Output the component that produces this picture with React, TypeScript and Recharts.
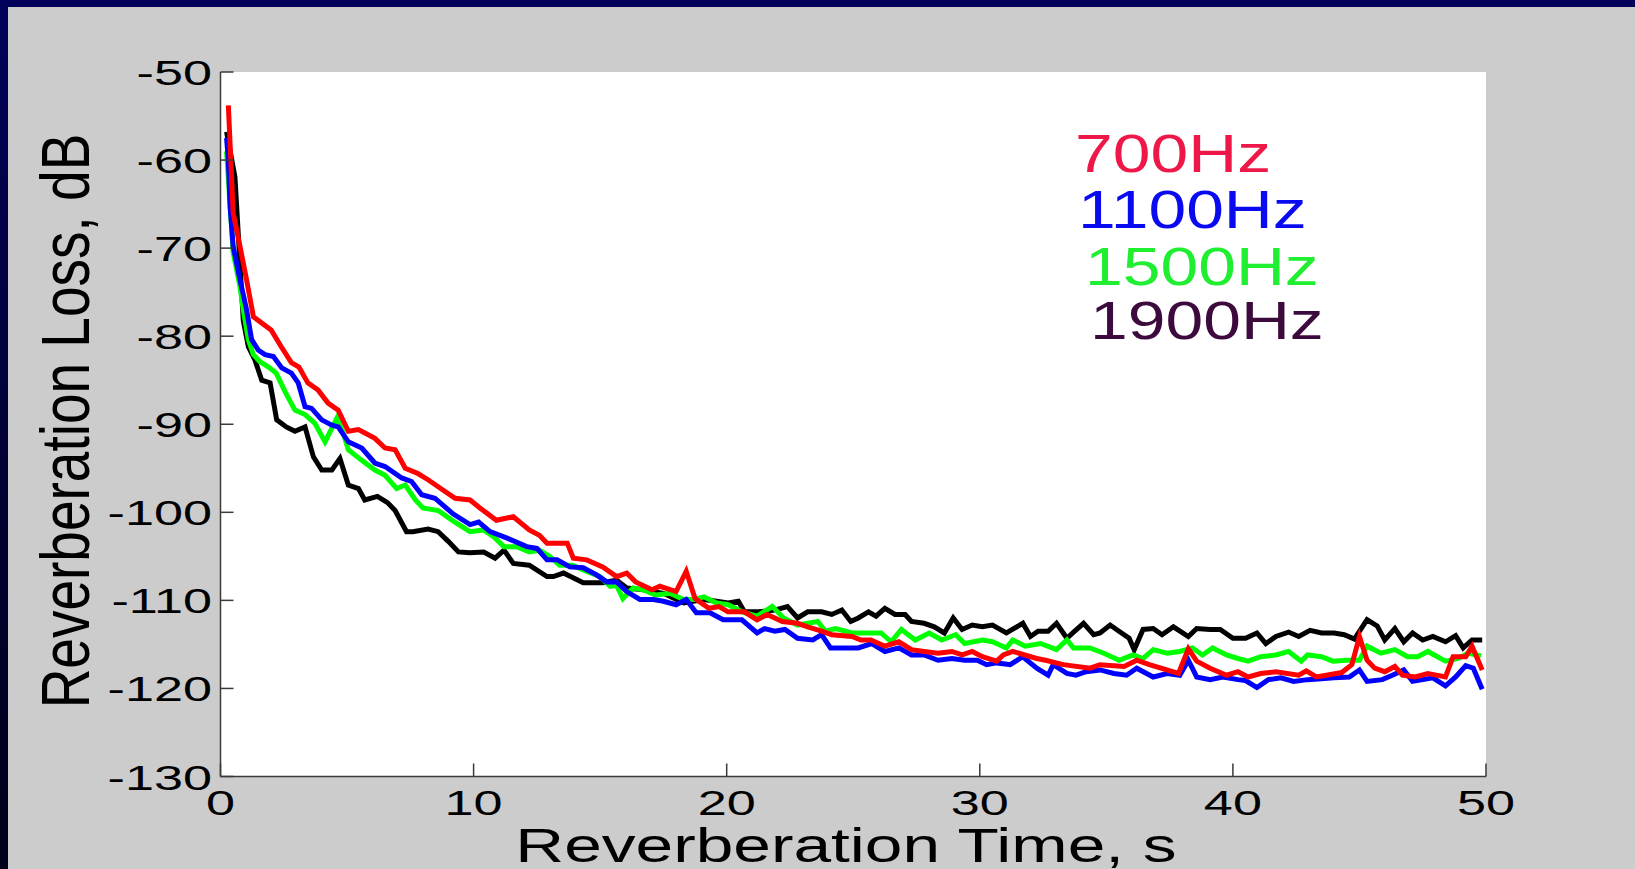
import { LineChart, Line, XAxis, YAxis, CartesianGrid } from "recharts";

// values (time in s, loss in dB)
const time700 = [
  0.31, 0.5, 0.77, 1.03, 1.3, 2.0, 2.4, 2.8, 3.1, 3.45, 3.85, 4.25, 4.65, 5.05, 5.45, 6.1, 6.5, 6.9, 7.3, 7.8,
  8.2, 8.7, 9.27, 9.86, 10.25, 10.9, 11.57, 12.2, 12.6, 12.9, 13.7, 13.94, 14.47, 15.1, 15.65, 16.05, 16.4, 17.05,
  17.36, 18.0, 18.4, 18.75, 19.3, 19.7, 20.05, 20.7, 21.2, 21.6, 22.2, 22.8, 23.2, 23.75, 24.15, 24.95, 25.3, 25.7,
  26.25, 26.8, 27.3, 27.8, 28.35, 28.9, 29.3, 29.7, 30.1, 30.67, 30.93, 31.3, 32.25, 32.6, 33.3, 34.35, 34.75, 35.7,
  36.2, 36.7, 37.85, 38.24, 38.57, 39.1, 39.75, 40.2, 40.6, 41.1, 41.7, 42.6, 42.9, 43.3, 44.3, 44.7, 45.0, 45.3,
  45.6, 46.0, 46.4, 46.7, 47.2, 47.7, 48.4, 48.7, 49.2, 49.45, 49.85,
];
const loss700 = [
  -53.8, -66, -69.8, -73.6, -77.8, -79.3, -81.2, -83, -83.5, -85.3, -86.1, -87.6, -88.4, -90.8, -90.6, -91.6, -92.7,
  -92.9, -95, -95.6, -96.3, -97.3, -98.4, -98.6, -99.5, -100.9, -100.5, -102, -102.6, -103.5, -103.5, -105.2, -105.4,
  -106.2, -107.3, -106.9, -107.9, -108.8, -108.4, -109, -106.7, -109.8, -110.9, -110.7, -111.3, -111.3, -112.2,
  -111.6, -112.4, -112.6, -113, -113.5, -113.9, -114.1, -114.5, -114.5, -115.2, -114.7, -115.6, -115.8, -116, -115.8,
  -116.2, -115.8, -116.4, -116.9, -116.2, -115.8, -116.6, -116.8, -117.3, -117.7, -117.3, -117.5, -116.8, -117.3,
  -118.3, -115.5, -116.9, -117.7, -118.5, -118.1, -118.7, -118.3, -118.1, -118.5, -118, -118.7, -118.2, -117.3,
  -114.1, -116.8, -117.7, -118.1, -117.5, -118.5, -118.7, -118.3, -118.7, -116.4, -116.4, -115.2, -117.9,
];

const time1100 = [
  0.24, 0.31, 0.38, 0.5, 0.77, 1.03, 1.23, 1.5, 1.76, 2.09, 2.42, 2.8, 3.07, 3.34, 3.6, 4.0, 4.4, 4.65, 5.05, 5.58,
  6.1, 6.5, 7.16, 7.55, 7.95, 8.47, 9.2, 9.86, 10.2, 10.65, 11.3, 12.1, 12.5, 12.9, 13.3, 13.8, 14.33, 14.86, 15.26,
  15.65, 16.05, 16.57, 17.1, 17.5, 18.0, 18.4, 18.8, 19.34, 19.86, 20.6, 21.2, 21.5, 21.9, 22.3, 22.8, 23.4, 23.75,
  24.1, 24.7, 25.2, 25.73, 26.25, 26.8, 27.3, 27.8, 28.35, 28.9, 29.4, 29.9, 30.27, 30.67, 31.2, 31.7, 32.25, 32.7,
  32.9, 33.44, 33.8, 34.2, 34.75, 35.3, 35.8, 36.2, 36.85, 37.4, 37.9, 38.24, 38.57, 39.1, 39.6, 40.2, 40.5, 40.95,
  41.4, 41.9, 42.4, 42.95, 43.5, 44.0, 44.6, 45.0, 45.3, 45.9, 46.3, 46.75, 47.1, 47.5, 47.9, 48.4, 48.8, 49.2, 49.5,
  49.85,
];
const loss1100 = [
  -57.5, -60, -65.3, -69.8, -73.6, -77, -80.4, -81.6, -82.1, -82.3, -83.6, -84.2, -85.3, -88, -88.2, -89.5, -90.1,
  -90.3, -92, -92.7, -94.4, -94.8, -96.1, -96.5, -98, -98.4, -100.2, -101.4, -101.1, -102.2, -102.9, -103.9, -104.1,
  -105.4, -105.4, -106.2, -106.3, -107.1, -107.9, -107.9, -109, -109.9, -109.9, -110.1, -110.5, -109.9, -111.4,
  -111.4, -112.2, -112.2, -113.7, -113.2, -113.5, -113.3, -114.3, -114.5, -113.9, -115.4, -115.4, -115.4, -114.9,
  -115.8, -115.4, -116.2, -116.2, -116.8, -116.6, -116.8, -116.8, -117.3, -117.1, -117.3, -116.4, -117.7, -118.5,
  -117.3, -118.3, -118.5, -118.1, -117.9, -118.3, -118.5, -117.7, -118.7, -118.3, -118.5, -116.8, -118.7, -119,
  -118.7, -119, -119.1, -119.9, -119, -118.8, -119.2, -119, -118.9, -118.8, -118.7, -117.9, -119.2, -119, -118.5,
  -117.9, -119.2, -119, -118.8, -119.7, -118.7, -117.4, -117.7, -120.1,
];

const time1500 = [
  0.24, 0.5, 0.77, 0.9, 1.1, 1.3, 1.56, 1.9, 2.2, 2.55, 2.94, 3.34, 3.73, 4.13, 4.6, 4.85, 5.05, 5.58, 6.1, 6.5, 6.96,
  7.3, 7.7, 8.0, 8.6, 9.2, 9.86, 10.4, 10.8, 11.2, 11.7, 12.2, 12.6, 13.0, 13.4, 13.9, 14.47, 15.0, 15.4, 15.65, 15.9,
  16.3, 16.7, 17.2, 17.75, 18.3, 18.7, 19.1, 19.6, 20.06, 20.6, 21.2, 21.8, 22.25, 22.8, 23.6, 23.9, 24.3, 24.95,
  25.5, 26.1, 26.5, 26.9, 27.45, 28.0, 28.5, 29.05, 29.4, 30.1, 30.5, 31.05, 31.3, 31.8, 32.4, 33.03, 33.44, 33.7,
  34.35, 34.9, 35.5, 36.05, 36.45, 36.85, 37.4, 37.9, 38.4, 38.8, 39.2, 39.75, 40.2, 40.6, 41.1, 41.7, 42.2, 42.7,
  42.95, 43.5, 43.95, 44.5, 45.0, 45.3, 45.85, 46.4, 46.9, 47.3, 47.7, 48.4, 48.9, 49.3, 49.8,
];
const loss1500 = [
  -59, -70.5, -74.4, -77, -80.4, -82.1, -82.9, -83.5, -84.2, -86.3, -88.4, -88.9, -89.9, -92, -89.3, -91, -92.9,
  -94.1, -95.2, -95.8, -97.3, -96.9, -98.6, -99.5, -99.8, -101, -102.2, -102, -102.8, -103.9, -103.9, -104.5,
  -104.3, -105, -106, -106, -106.7, -107.3, -108.4, -108.3, -109.8, -108.6, -108.8, -109.4, -109.2, -109.9, -109.9,
  -109.6, -110.3, -110.5, -111.3, -111.8, -110.7, -112, -112.8, -112.4, -113.5, -113.2, -113.7, -113.7, -113.7,
  -114.7, -113.3, -114.5, -113.7, -114.5, -113.9, -114.9, -114.5, -114.7, -115.4, -114.5, -115.2, -114.9, -115.6,
  -114.5, -115.4, -115.4, -116, -116.8, -116.2, -116.6, -115.6, -116, -115.8, -115.4, -116.2, -115.4, -116.2,
  -116.6, -116.9, -116.4, -116.2, -115.8, -116.9, -116.2, -116.4, -116.9, -116.8, -116.8, -115.2, -116, -115.6,
  -116.4, -116.4, -115.8, -116.9, -116.6, -116, -116.3,
];

const time1900 = [
  0.24, 0.57, 0.7, 0.9, 1.1, 1.36, 1.63, 1.96, 2.22, 2.6, 2.94, 3.34, 3.67, 4.0, 4.4, 4.72, 5.05, 5.45, 5.7, 6.2,
  6.6, 6.9, 7.35, 7.6, 8.2, 8.6, 9.0, 9.4, 9.86, 10.4, 10.85, 11.2, 11.57, 12.2, 12.9, 13.15, 13.55, 14.33, 15.1,
  15.65, 16.05, 16.7, 17.5, 18.3, 19.07, 19.6, 20.06, 20.46, 20.7, 21.25, 21.9, 22.4, 22.8, 23.2, 23.75, 24.15,
  24.55, 24.9, 25.2, 25.6, 25.9, 26.25, 26.65, 27.05, 27.3, 27.8, 28.2, 28.6, 28.95, 29.3, 29.7, 30.1, 30.5, 31.05,
  31.7, 32.0, 32.3, 32.7, 33.03, 33.44, 33.75, 34.1, 34.5, 34.75, 35.15, 35.5, 35.9, 36.1, 36.45, 36.85, 37.2,
  37.65, 38.24, 38.57, 39.1, 39.5, 40.0, 40.5, 40.95, 41.3, 41.7, 42.2, 42.6, 43.05, 43.5, 44.0, 44.4, 44.8, 45.3,
  45.7, 46.0, 46.4, 46.75, 47.1, 47.5, 47.9, 48.4, 48.8, 49.1, 49.45, 49.85,
];
const loss1900 = [
  -56.8, -61.9, -68.3, -78.2, -81.2, -82.7, -85, -85.3, -89.5, -90.3, -90.8, -90.3, -93.7, -95.2, -95.2, -93.9,
  -96.9, -97.3, -98.6, -98.2, -98.9, -99.8, -102.2, -102.2, -101.9, -102.2, -103.3, -104.5, -104.6, -104.5, -105.2,
  -104.3, -105.8, -106, -107.3, -107.3, -106.9, -108, -108, -107.7, -108.6, -108.8, -109.2, -110.3, -109.9, -110.1,
  -110.3, -110.1, -111.3, -111.3, -111.1, -110.7, -112, -111.3, -111.3, -111.6, -111.1, -112.4, -112, -111.3, -111.8,
  -110.9, -111.6, -111.6, -112.4, -112.6, -113, -113.7, -112, -113.3, -112.8, -113, -112.8, -113.7, -112.6, -114.1,
  -113.5, -113.5, -112.6, -114.3, -113.5, -112.6, -113.9, -113.7, -112.8, -113.5, -114.3, -115.6, -113.3, -113.2,
  -113.9, -113, -114.1, -113.2, -113.3, -113.3, -114.3, -114.3, -113.7, -114.9, -114.1, -113.6, -114.1, -113.4,
  -113.7, -113.7, -113.9, -114.4, -112.2, -112.9, -114.5, -113.2, -114.7, -113.7, -114.5, -114.1, -114.7, -114,
  -115.4, -114.5, -114.5,
];

const xTicks = [0, 10, 20, 30, 40, 50];
const yTicks = [-130, -120, -110, -100, -90, -80, -70, -60, -50];
const legendLabels = ["700Hz", "1100Hz", "1500Hz", "1900Hz"];
const legendColors = ["#ee1848", "#0a0af0", "#20ee30", "#3c0a3c"];

const toPoints = (t: number[], v: number[]) => t.map((x, i) => ({ t: x, v: v[i] }));

// drawn back to front, like the original plot
const series = [
  { key: "1900", color: "#000000", data: toPoints(time1900, loss1900) },
  { key: "1500", color: "#00ff00", data: toPoints(time1500, loss1500) },
  { key: "1100", color: "#0000ff", data: toPoints(time1100, loss1100) },
  { key: "700", color: "#ff0000", data: toPoints(time700, loss700) },
];

const FONT = "'Liberation Sans', Arial, Helvetica, sans-serif";
const FRAME = "#3a3a3a";
const TICK = 13;

function BottomTick({ x, y, payload }: any) {
  return (
    <g>
      <line x1={x} y1={y} x2={x} y2={y - TICK} stroke={FRAME} strokeWidth={1.5} />
      <text
        transform={`translate(${x},${y + 38.5}) scale(1.45,1)`}
        textAnchor="middle"
        fontSize={36}
        fontFamily={FONT}
        fill="#000"
      >
        {payload.value}
      </text>
    </g>
  );
}

function TopTick({ x, y }: any) {
  return <line x1={x} y1={y} x2={x} y2={y + TICK} stroke={FRAME} strokeWidth={1.5} />;
}

function LeftTick({ x, y, payload }: any) {
  return (
    <g>
      <line x1={x} y1={y} x2={x + TICK} y2={y} stroke={FRAME} strokeWidth={1.5} />
      <text
        transform={`translate(${x - 8.5},${y + 13}) scale(1.45,1)`}
        textAnchor="end"
        fontSize={36}
        fontFamily={FONT}
        fill="#000"
      >
        {payload.value}
      </text>
    </g>
  );
}

function RightTick({ x, y }: any) {
  return <line x1={x} y1={y} x2={x - TICK} y2={y} stroke={FRAME} strokeWidth={1.5} />;
}

const xTitle = () => (
  <text
    transform="translate(846,862) scale(1.38,1)"
    textAnchor="middle"
    fontSize={49}
    fontFamily={FONT}
    fill="#000"
  >
    Reverberation Time, s
  </text>
);

const legendPos = [
  { x: 1075, y: 172 },
  { x: 1078, y: 228 },
  { x: 1085, y: 285 },
  { x: 1090, y: 339 },
];

// y-axis title plus the frequency key inside the plot
const yTitle = () => (
  <g>
    <text
      transform="translate(89,421) scale(1.25,1) rotate(-90)"
      textAnchor="middle"
      fontSize={55}
      fontFamily={FONT}
      fill="#000"
    >
      Reverberation Loss, dB
    </text>
    {legendLabels.map((label, i) => (
      <text
        key={label}
        transform={`translate(${legendPos[i].x},${legendPos[i].y}) scale(1.28,1)`}
        fontSize={53}
        fontFamily={FONT}
        fill={legendColors[i]}
      >
        {label}
      </text>
    ))}
  </g>
);

export default function App() {
  return (
    <div
      style={{
        position: "fixed",
        left: 0,
        top: 0,
        width: 1635,
        height: 869,
        overflow: "hidden",
        background: "linear-gradient(#02025a, #000030 60%, #00001a)",
      }}
    >
      <div style={{ position: "absolute", left: 8, top: 7, right: 0, bottom: 0, background: "#cccccc" }} />
      <div style={{ position: "absolute", left: 0, top: 0 }}>
        <LineChart width={1635} height={869} margin={{ top: 72, right: 149, bottom: 0, left: 0 }}>
          <CartesianGrid horizontal={false} vertical={false} fill="#ffffff" />
          <XAxis
            xAxisId="bottom"
            type="number"
            dataKey="t"
            domain={[0, 50]}
            ticks={xTicks}
            height={92.5}
            allowDataOverflow
            axisLine={{ stroke: FRAME, strokeWidth: 1.5 }}
            tickLine={false}
            tickSize={0}
            tickMargin={0}
            tick={BottomTick}
            interval={0}
            label={xTitle}
          />
          <XAxis
            xAxisId="top"
            orientation="top"
            type="number"
            dataKey="t"
            domain={[0, 50]}
            ticks={xTicks}
            height={0}
            allowDataOverflow
            axisLine={{ stroke: FRAME, strokeWidth: 1.5 }}
            tickLine={false}
            tickSize={0}
            tickMargin={0}
            tick={TopTick}
            interval={0}
          />
          <YAxis
            yAxisId="left"
            type="number"
            domain={[-130, -50]}
            ticks={yTicks}
            width={220.5}
            allowDataOverflow
            axisLine={{ stroke: FRAME, strokeWidth: 1.5 }}
            tickLine={false}
            tickSize={0}
            tickMargin={0}
            tick={LeftTick}
            interval={0}
            label={yTitle}
          />
          <YAxis
            yAxisId="right"
            orientation="right"
            type="number"
            domain={[-130, -50]}
            ticks={yTicks}
            width={0}
            allowDataOverflow
            axisLine={{ stroke: FRAME, strokeWidth: 1.5 }}
            tickLine={false}
            tickSize={0}
            tickMargin={0}
            tick={RightTick}
            interval={0}
          />
          {series.map((s) => (
            <Line
              key={s.key}
              xAxisId="bottom"
              yAxisId="left"
              data={s.data}
              dataKey="v"
              type="linear"
              stroke={s.color}
              strokeWidth={5}
              dot={false}
              activeDot={false}
              isAnimationActive={false}
            />
          ))}
        </LineChart>
      </div>
    </div>
  );
}
